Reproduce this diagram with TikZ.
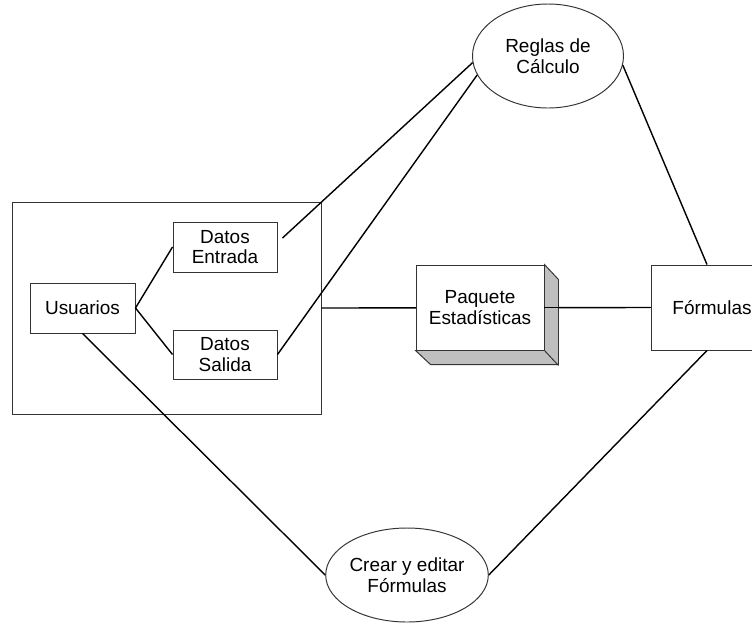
\documentclass[tikz,border=0pt]{standalone}
\usepackage{fontspec}
\setmainfont{Liberation Sans}
\usepackage{xcolor}
\usepackage{tikz}
\usetikzlibrary{positioning, shapes.geometric}

\begin{document}
\begin{tikzpicture}[
    font=\fontsize{10.8}{11.8}\selectfont,
    textbox/.style={rectangle, draw=black!80, line width=0.55pt, fill=white, align=center, inner sep=0pt},
    oval/.style={ellipse, draw=black!80, line width=0.55pt, fill=white, align=center, inner sep=0pt},
    link/.style={line width=0.8pt}
]
\useasboundingbox (0,0) rectangle (15.04,-12.46);

% Define the frame and the blocks inside it
\node[textbox, minimum width=6.18cm, minimum height=4.24cm] (frame) at (3.33,-6.16) {};
\node[textbox, minimum width=2.1cm, minimum height=1.0cm] (usuarios) at (1.65,-6.16) {Usuarios};
\node[textbox, minimum width=2.08cm, minimum height=1.0cm] (entrada) at (4.5,-4.94) {Datos\\Entrada};
\node[textbox, minimum width=2.08cm, minimum height=0.98cm] (salida) at (4.5,-7.09) {Datos\\Salida};

% Other blocks
\node[oval, minimum width=3.02cm, minimum height=2.08cm] (reglas) at (10.96,-1.12) {Reglas de\\Cálculo};
\node[oval, minimum width=3.0cm, minimum height=1.88cm] (crear) at (8.14,-11.5) {Crear y editar\\Fórmulas};
\node[textbox, minimum width=2.44cm, minimum height=1.7cm] (formulas) at (14.24,-6.15) {Fórmulas};

% Draw the lines between blocks
\draw[link] (usuarios.east) -- (entrada.west);
\draw[link] (usuarios.east) -- (salida.west);
\draw[link] ([shift={(0.1,0.18)}]entrada.east) -- (reglas.185);
\draw[link] (salida.east) -- (reglas.195);
\draw[link] (reglas.353) -- ([xshift=-0.1cm]formulas.north);
\draw[link] (frame.east) -- (formulas.west);
\draw[link] (usuarios.south) -- (crear.west);
\draw[link] ([xshift=-0.1cm]formulas.south) -- (crear.east);

% Paquete block with its shaded depth
\node[textbox, minimum width=2.56cm, minimum height=1.7cm] (paquete) at (9.6,-6.15) {Paquete\\Estadísticas};
\draw[draw=black!80, line width=0.55pt, fill=gray!50] (paquete.north east) -- ++(0.28,-0.3) -- ++(0,-1.7) -- ++(-2.56,0) -- (paquete.south west) -- (paquete.south east) -- cycle;
\draw[draw=black!80, line width=0.55pt] (paquete.south east) -- ++(0.28,-0.3);
\draw[link] (paquete.east) -- (formulas.west);

\end{tikzpicture}
\end{document}
